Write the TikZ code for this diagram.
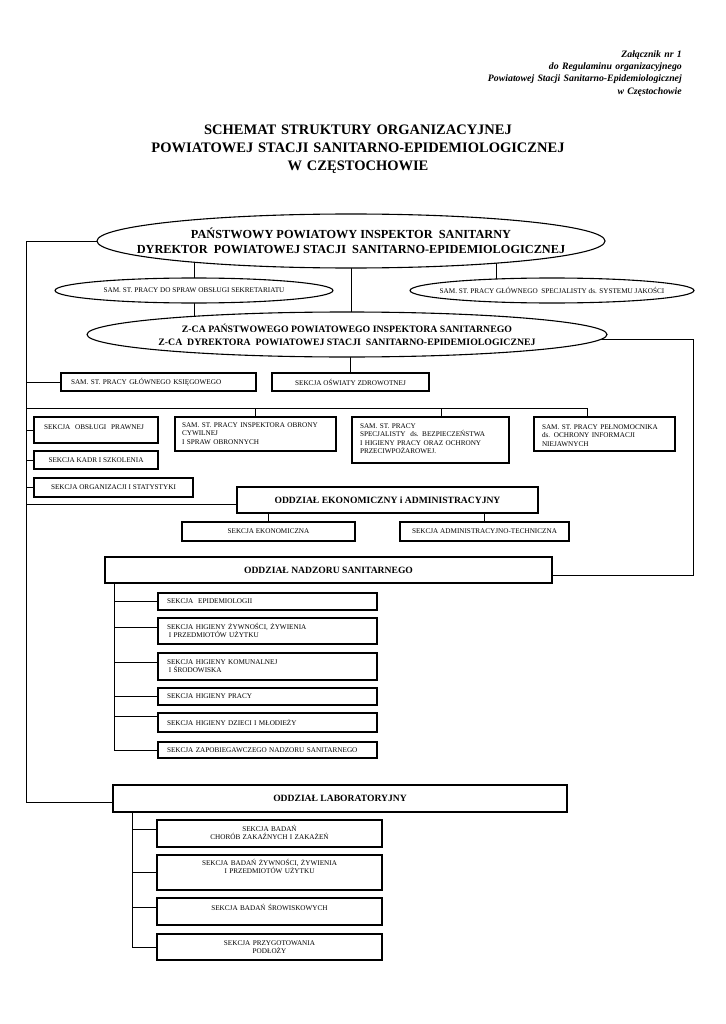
\documentclass[tikz,border=0pt]{standalone}
\usepackage{fontspec}
\setmainfont{Liberation Serif}
\usetikzlibrary{shapes.geometric,backgrounds}
\newcommand\fsSmall{\fontsize{7.2}{8.3}\selectfont}
\newcommand\fsBold{\bfseries\fontsize{9.6}{11}\selectfont}
\newcommand\fsEll{\bfseries\fontsize{12.3}{15}\selectfont}
\newcommand\fsZca{\bfseries\fontsize{9.8}{13}\selectfont}
\newcommand\fsTitle{\bfseries\fontsize{14.5}{18}\selectfont}
\newcommand\fsHead{\bfseries\itshape\fontsize{9.8}{12.2}\selectfont}
\newcommand\zw[1]{\makebox[0pt]{#1}}
\begin{document}
\begin{tikzpicture}[x=1pt,y=-1pt,
  bx/.style={draw, line width=1.4pt, fill=white, inner sep=0pt, font=\fsSmall},
  bxb/.style={bx, font=\fsBold},
  nbx/.style={bx, text width=201pt, inner xsep=9pt, align=left},
  lbx/.style={bx, text width=225pt, align=center},
  ell/.style={ellipse, draw, line width=1.1pt, fill=white, inner sep=0pt, align=center},
  conn/.style={line width=1pt}]
\useasboundingbox (0,0) rectangle (725,1024);

% header and title
\node[anchor=base east, text width=260pt, align=right, font=\fsHead, inner sep=0pt] (hdr) at (682,57.5)
  {Załącznik nr 1\\do Regulaminu organizacyjnego\\Powiatowej Stacji Sanitarno-Epidemiologicznej\\w Częstochowie};
\node[anchor=base, text width=500pt, align=center, font=\fsTitle, inner sep=0pt] (title) at (358,135)
  {SCHEMAT STRUKTURY ORGANIZACYJNEJ\\POWIATOWEJ STACJI SANITARNO-EPIDEMIOLOGICZNEJ\\W CZĘSTOCHOWIE};

% ellipses
\node[ell, minimum width=508pt, minimum height=54pt, font=\fsEll] (top) at (351,241)
  {\zw{PAŃSTWOWY POWIATOWY INSPEKTOR~~SANITARNY}\\\zw{DYREKTOR~~POWIATOWEJ STACJI~~SANITARNO-EPIDEMIOLOGICZNEJ}};
\node[ell, minimum width=278pt, minimum height=25pt, font=\fsSmall] (sec) at (194,290.5)
  {\zw{SAM. ST. PRACY DO SPRAW OBSŁUGI SEKRETARIATU}};
\node[ell, minimum width=284pt, minimum height=25pt, font=\fsSmall] (qual) at (552,290.5)
  {\zw{SAM. ST. PRACY GŁÓWNEGO~~SPECJALISTY ds. SYSTEMU JAKOŚCI}};
\node[ell, minimum width=520pt, minimum height=45pt, font=\fsZca] (zca) at (347,334.5)
  {\zw{Z-CA PAŃSTWOWEGO POWIATOWEGO INSPEKTORA SANITARNEGO}\\\zw{Z-CA~~DYREKTORA~~POWIATOWEJ STACJI~~SANITARNO-EPIDEMIOLOGICZNEJ}};

% first rows
\node[bx, minimum height=18pt, text width=175pt, inner xsep=10pt, align=left] (ksieg) at (158.5,382)
  {SAM. ST. PRACY GŁÓWNEGO KSIĘGOWEGO};
\node[bx, minimum width=157pt, minimum height=18pt] (osw) at (350.5,382) {SEKCJA OŚWIATY ZDROWOTNEJ};
\node[bx, text width=104pt, inner xsep=10pt, align=left, text height=12.4pt, text depth=13.6pt] (prawna) at (96,430)
  {SEKCJA~~OBSŁUGI~~PRAWNEJ};
\node[bx, text width=147pt, inner xsep=7pt, align=left, text height=10.4pt, text depth=23.6pt] (insp) at (255.5,434)
  {SAM. ST. PRACY INSPEKTORA OBRONY\\CYWILNEJ\\I SPRAW OBRONNYCH};
\node[bx, text width=141pt, inner xsep=8pt, align=left, text height=11.4pt, text depth=34.6pt] (bhp) at (430.5,440)
  {SAM. ST. PRACY\\SPECJALISTY~~ds. BEZPIECZEŃSTWA\\I HIGIENY PRACY ORAZ OCHRONY\\PRZECIWPOŻAROWEJ.};
\node[bx, text width=125pt, inner xsep=8pt, align=left, text height=12.4pt, text depth=21.6pt] (pelnom) at (604.5,434)
  {SAM. ST. PRACY PEŁNOMOCNIKA\\ds. OCHRONY INFORMACJI\\NIEJAWNYCH};
\node[bx, minimum width=124pt, minimum height=18pt] (kadr) at (96,460) {SEKCJA KADR I SZKOLENIA};
\node[bx, minimum width=159pt, minimum height=19pt] (org) at (113.5,487.5) {SEKCJA ORGANIZACJI I STATYSTYKI};

% economic department
\node[bxb, minimum width=301pt, minimum height=26pt] (ekon) at (387.5,500) {ODDZIAŁ EKONOMICZNY i ADMINISTRACYJNY};
\node[bx, minimum width=173pt, minimum height=19pt] (ekonom) at (268.5,531.5) {SEKCJA EKONOMICZNA};
\node[bx, minimum width=169pt, minimum height=19pt] (admin) at (484.5,531.5) {SEKCJA ADMINISTRACYJNO-TECHNICZNA};

% sanitary supervision
\node[bxb, minimum width=447pt, minimum height=26pt] (nadzor) at (328.5,570) {ODDZIAŁ NADZORU SANITARNEGO};
\node[nbx, minimum height=17pt] (n1) at (267.5,601.5) {SEKCJA~~EPIDEMIOLOGII};
\node[nbx, text height=11.4pt, text depth=14.6pt] (n2) at (267.5,631)
  {SEKCJA HIGIENY ŻYWNOŚCI, ŻYWIENIA\\\hspace*{1.8pt}I PRZEDMIOTÓW UŻYTKU};
\node[nbx, text height=11.4pt, text depth=15.6pt] (n3) at (267.5,666.5)
  {SEKCJA HIGIENY KOMUNALNEJ\\\hspace*{1.8pt}I ŚRODOWISKA};
\node[nbx, minimum height=17pt] (n4) at (267.5,696.5) {SEKCJA HIGIENY PRACY};
\node[nbx, minimum height=19pt] (n5) at (267.5,722.5) {SEKCJA HIGIENY DZIECI I MŁODIEŻY};
\node[nbx, minimum height=16pt] (n6) at (267.5,750) {\mbox{SEKCJA ZAPOBIEGAWCZEGO NADZORU SANITARNEGO}};

% laboratory
\node[bxb, minimum width=454pt, minimum height=27pt] (lab) at (340,798.5) {ODDZIAŁ LABORATORYJNY};
\node[lbx, text height=11.4pt, text depth=15.6pt] (l1) at (269.5,833.5) {SEKCJA BADAŃ\\CHORÓB ZAKAŹNYCH I ZAKAŻEŃ};
\node[lbx, text height=10.4pt, text depth=24.6pt] (l2) at (269.5,872.5) {SEKCJA BADAŃ ŻYWNOŚCI, ŻYWIENIA\\I PRZEDMIOTÓW UŻYTKU};
\node[lbx, text height=12.4pt, text depth=14.6pt] (l3) at (269.5,911.5) {SEKCJA BADAŃ ŚROWISKOWYCH};
\node[lbx, text height=11.4pt, text depth=14.6pt] (l4) at (269.5,947) {SEKCJA PRZYGOTOWANIA\\PODŁOŻY};

% trunk coordinates
\coordinate (LX) at (26,241);
\coordinate (RX) at (693,339);
\coordinate (HR) at (587,408);
\coordinate (NX) at (114,583);
\coordinate (BX) at (132,812);

\begin{scope}[on background layer, conn]
  % left trunk
  \draw (top.center) -- (LX) -- ([yshift=-4pt]lab.west -| LX) -- ([yshift=-4pt]lab.west);
  \draw (ksieg.west) -- (ksieg.west -| LX);
  \draw (prawna.west) -- (prawna.west -| LX);
  \draw (kadr.west) -- (kadr.west -| LX);
  \draw (org.west) -- (org.west -| LX);
  \draw ([yshift=-4pt]ekon.west) -- ([yshift=-4pt]ekon.west -| LX);
  % row line
  \draw (HR -| LX) -- (HR) -- (HR |- pelnom.north);
  \draw (insp.north) -- (insp.north |- HR);
  \draw ([xshift=10.5pt]bhp.north) -- ([xshift=10.5pt]bhp.north |- HR);
  % top structure
  \draw (top.center) -- (top.center |- zca.center);
  \draw (sec.center) -- (sec.center |- top.center);
  \draw (sec.center) -- (sec.center |- zca.center);
  \draw ([xshift=-56pt]qual.center) -- ([xshift=-56pt]qual.center |- top.center);
  \draw (osw.north) -- (osw.north |- zca.center);
  % right trunk
  \draw (zca.center |- RX) -- (RX) -- ([yshift=-5pt]nadzor.east -| RX) -- ([yshift=-5pt]nadzor.east);
  % economic subs
  \draw (ekonom.north) -- (ekonom.north |- ekon.south);
  \draw (admin.north) -- (admin.north |- ekon.south);
  % nadzor subtree
  \draw (nadzor.south -| NX) -- (n6.west -| NX) -- (n6.west);
  \draw (n1.west) -- (n1.west -| NX);
  \draw ([yshift=4pt]n2.west) -- ([yshift=4pt]n2.west -| NX);
  \draw ([yshift=4.5pt]n3.west) -- ([yshift=4.5pt]n3.west -| NX);
  \draw (n4.west) -- (n4.west -| NX);
  \draw ([yshift=6.5pt]n5.west) -- ([yshift=6.5pt]n5.west -| NX);
  % lab subtree
  \draw (lab.south -| BX) -- (l4.west -| BX) -- (l4.west);
  \draw ([yshift=4.5pt]l1.west) -- ([yshift=4.5pt]l1.west -| BX);
  \draw (l2.west) -- (l2.west -| BX);
  \draw ([yshift=4.5pt]l3.west) -- ([yshift=4.5pt]l3.west -| BX);
\end{scope}
\end{tikzpicture}
\end{document}
